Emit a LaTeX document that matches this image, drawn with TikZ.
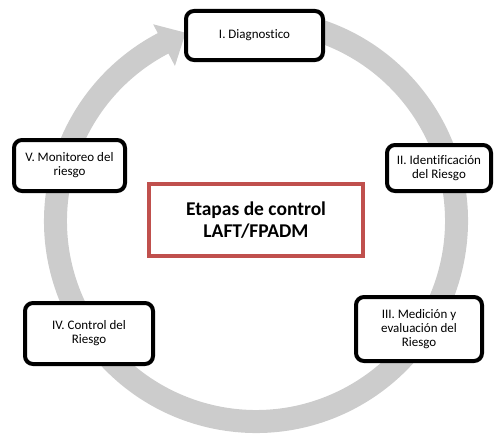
\documentclass[tikz,border=0pt]{standalone}
\usepackage{fontspec}
\setmainfont{Carlito}[Ligatures={NoCommon}]
\definecolor{ringgray}{HTML}{CCCCCC}
\definecolor{boxred}{HTML}{C0504D}
\tikzset{
  stage/.style={draw=black, line width=4pt, rounded corners=8pt, fill=white,
    align=center, inner sep=0pt, font=\fontsize{13}{14}\selectfont},
  titlebox/.style={draw=boxred, line width=4pt, fill=white, align=center,
    inner sep=0pt, font=\fontsize{19.5}{22}\selectfont\bfseries}
}
\begin{document}
\begin{tikzpicture}[x=1pt,y=-1pt]
\useasboundingbox (0,0) rectangle (494,436);
% cycle ring with arrow head (angles negated because the y axis points down)
\coordinate (c) at (256,221);
\fill[ringgray] ([shift={(-80:212)}]c) arc[start angle=-80, end angle=242.4, radius=212]
  -- ([shift={(242.4:222)}]c)
  -- ([shift={(249.5:201)}]c)
  -- ([shift={(242.4:175)}]c)
  -- ([shift={(242.4:189)}]c)
  arc[start angle=242.4, end angle=-80, radius=189] -- cycle;
% stages
\node[stage, minimum width=137pt, minimum height=49pt] (d) at (254.5,35.5) {I. Diagnostico};
\node[stage, minimum width=104pt, minimum height=46pt] (id) at (439,168) {II. Identificación\\del Riesgo};
\node[stage, minimum width=126pt, minimum height=64pt] (me) at (419,329) {III. Medición y\\evaluación del\\Riesgo};
\node[stage, minimum width=128pt, minimum height=61pt] (co) at (89,333.5) {IV. Control del\\Riesgo};
\node[stage, minimum width=111pt, minimum height=51pt] (mo) at (69.5,165.5) {V. Monitoreo del\\riesgo};
\node[titlebox, minimum width=214pt, minimum height=72pt] (t) at (256,220) {Etapas de control\\LAFT/FPADM};
\end{tikzpicture}
\end{document}
